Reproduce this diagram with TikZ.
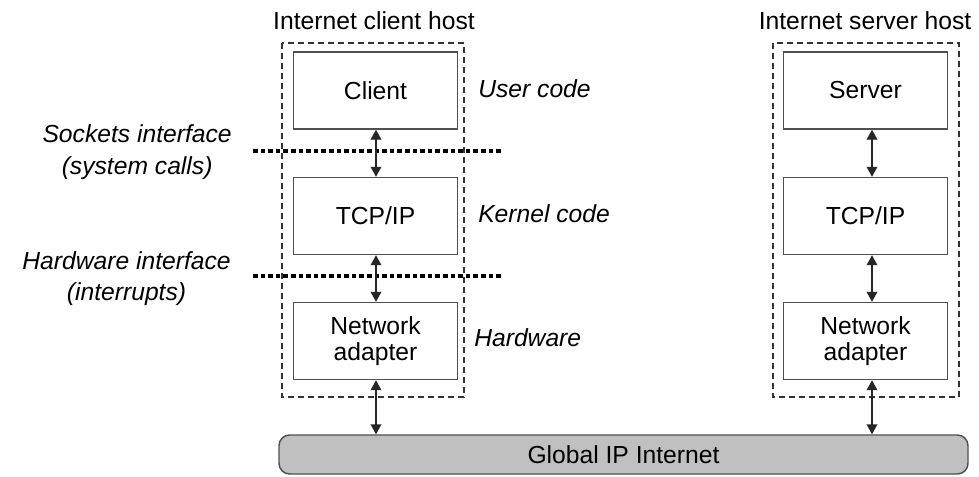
\documentclass[tikz,border=0pt]{standalone}
\usepackage{fontspec}
\setmainfont{Liberation Sans}
\usetikzlibrary{arrows.meta}
\definecolor{netgray}{RGB}{192,192,192}
\definecolor{edgegray}{RGB}{80,80,80}
\tikzset{
  layer/.style={draw=edgegray, line width=1.1pt, minimum width=123pt, minimum height=57.75pt,
                align=center, font=\fontsize{18.5}{21}\selectfont},
  hostbox/.style={draw=black!80, line width=0.9pt, dash pattern=on 4.5pt off 3pt},
  iface/.style={draw=black, line width=2.3pt, dash pattern=on 3.4pt off 2.3pt},
  link/.style={draw=black!85, line width=1.1pt, {Triangle[length=7.5pt,width=8pt]}-{Triangle[length=7.5pt,width=8pt]}},
  caption/.style={font=\fontsize{18.5}{21}\selectfont, inner sep=0pt},
  note/.style={font=\fontsize{18.5}{23.5}\selectfont\itshape, inner sep=0pt},
}
\begin{document}
\begin{tikzpicture}[x=0.75pt, y=-0.75pt]
  \useasboundingbox (0,0) rectangle (979,476);

  % host outlines
  \draw[hostbox] (282,43) rectangle (464,397);
  \draw[hostbox] (773,43) rectangle (959,397);
  \node[caption] (chost) at (374,21) {Internet client host};
  \node[caption] (shost) at (865,21) {Internet server host};

  % client stack
  \node[layer] (c1) at (375.5,90.5) {Client};
  \node[layer] (c2) at (375.5,216) {TCP/IP};
  \node[layer] (c3) at (375.5,341) {Network\\[-1pt]adapter};

  % server stack
  \node[layer] (s1) at (865.5,90.5) {Server};
  \node[layer] (s2) at (865.5,216) {TCP/IP};
  \node[layer] (s3) at (865.5,341) {Network\\[-1pt]adapter};

  % shared network
  \node[draw=edgegray, line width=1.1pt, fill=netgray, rounded corners=8pt,
        minimum width=516.75pt, minimum height=29.25pt,
        font=\fontsize{18.5}{21}\selectfont] (net) at (623.5,454.5) {Global IP Internet};

  % interface boundaries
  \draw[iface] (253,151) -- (501,151);
  \draw[iface] (253,276) -- (501,276);

  % layer labels
  \node[note, anchor=west] (ucode) at (478,89) {User code};
  \node[note, anchor=west] (kcode) at (478,214) {Kernel code};
  \node[note, anchor=west] (hw) at (474,338) {Hardware};
  \node[note, anchor=east, align=center] (sock) at (232,152) {Sockets interface\\(system calls)};
  \node[note, anchor=east, align=center] (hwif) at (231,278.5) {Hardware interface\\(interrupts)};

  % data paths
  \coordinate (lx) at (376,0);
  \coordinate (rx) at (872,0);
  \draw[link] (c1.south -| lx) -- (c2.north -| lx);
  \draw[link] (c2.south -| lx) -- (c3.north -| lx);
  \draw[link] (c3.south -| lx) -- (net.north -| lx);
  \draw[link] (s1.south -| rx) -- (s2.north -| rx);
  \draw[link] (s2.south -| rx) -- (s3.north -| rx);
  \draw[link] (s3.south -| rx) -- (net.north -| rx);
\end{tikzpicture}
\end{document}
